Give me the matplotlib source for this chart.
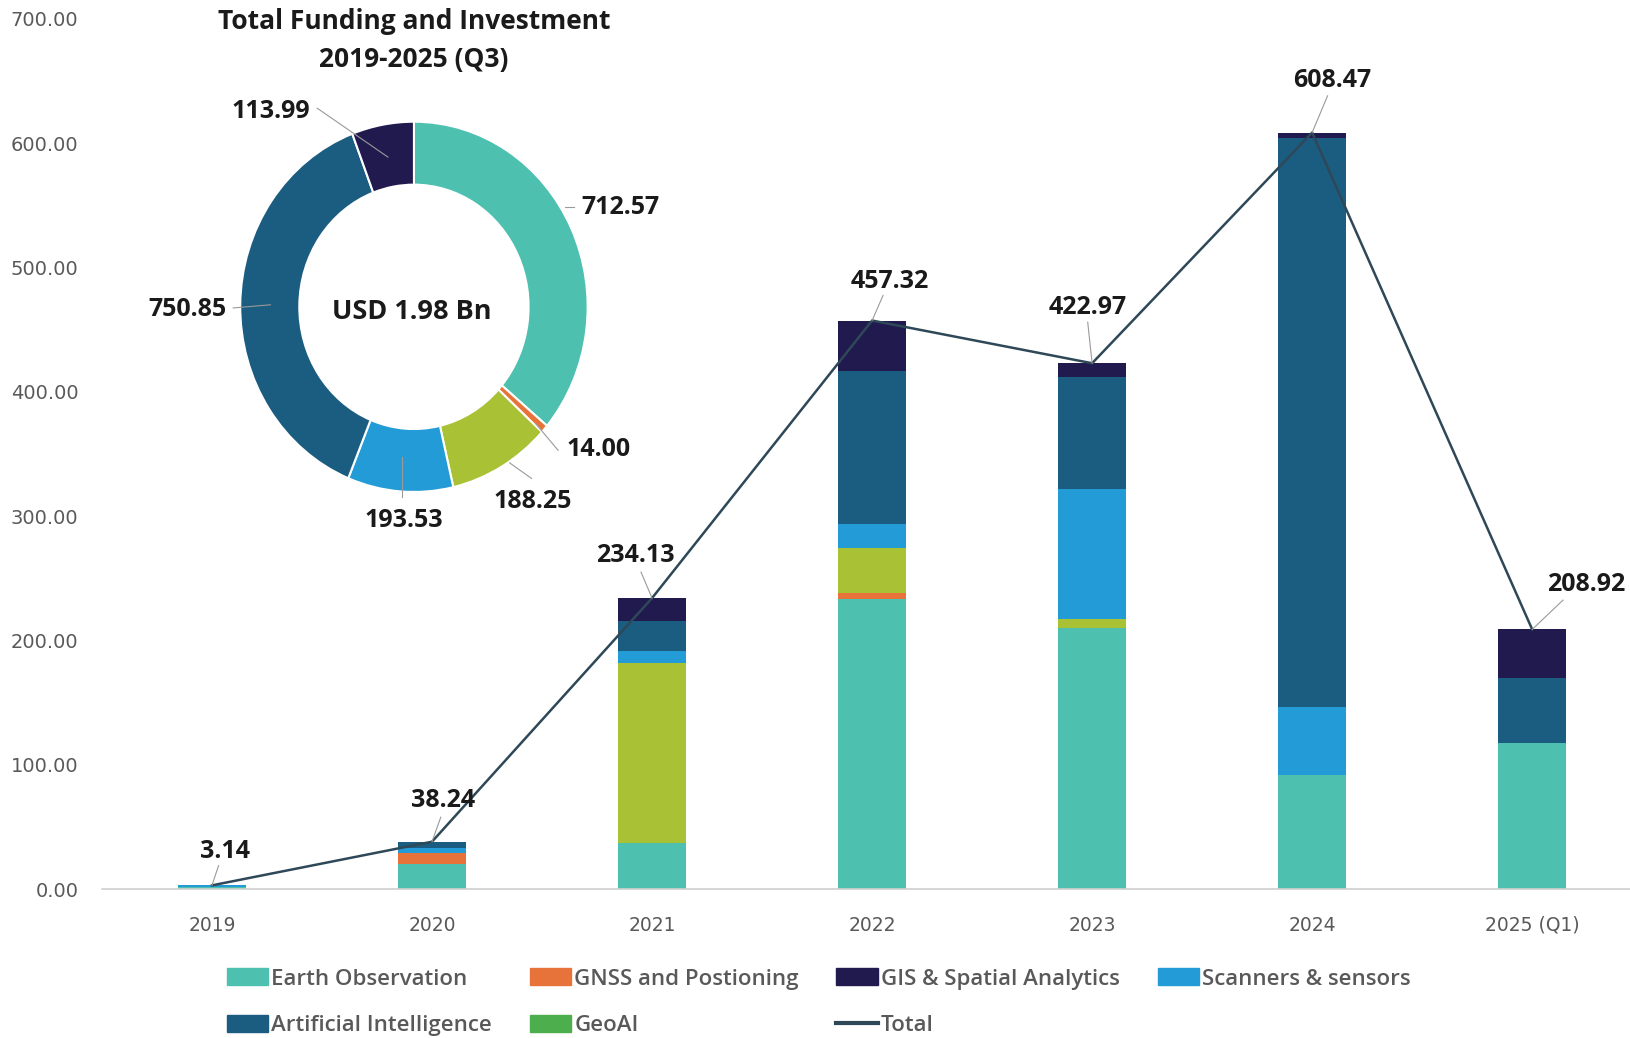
import numpy as np
import matplotlib.pyplot as plt
from matplotlib.patches import Patch
from matplotlib.lines import Line2D

plt.rcParams['font.family'] = ['Open Sans', 'DejaVu Sans']

# funding per segment and year (USD Mn)
years = ["2019", "2020", "2021", "2022", "2023", "2024", "2025 (Q1)"]
earth_obs = [1.64, 20.50, 37.60, 233.30, 210.00, 92.00, 117.53]
gnss = [0.00, 9.00, 0.00, 5.00, 0.00, 0.00, 0.00]
geoai = [0.00, 0.00, 144.60, 36.00, 7.65, 0.00, 0.00]
scanners = [1.50, 4.00, 9.50, 19.20, 104.50, 54.83, 0.00]
ai = [0.00, 4.74, 24.00, 123.00, 90.00, 456.94, 52.17]
gis = [0.00, 0.00, 18.43, 40.82, 10.82, 4.70, 39.22]

names = ["Earth Observation", "GNSS and Postioning", "GeoAI",
         "Scanners & sensors", "Artificial Intelligence", "GIS & Spatial Analytics"]
series = [earth_obs, gnss, geoai, scanners, ai, gis]
colors = ["#4ec0b0", "#e8733a", "#a9c135", "#239bd6", "#1b5d80", "#201a4e"]
geoai_key = "#4cae4c"
line_col = "#2f4858"
grey = "#595959"
dark = "#1a1a1a"

totals = np.round(np.sum(series, axis=0), 2)
seg_totals = np.round(np.sum(series, axis=1), 2)

fig = plt.figure(figsize=(16.31, 10.38), dpi=100)
ax = fig.add_axes([0.0625, 0.14329, 0.9375, 0.83868])

x = np.arange(len(years))
bottom = np.zeros(len(years))
for vals, c in zip(series, colors):
    ax.bar(x, vals, 0.31, bottom=bottom, color=c, linewidth=0, zorder=2)
    bottom += np.array(vals)

ax.plot(x, totals, color=line_col, lw=1.8, zorder=3)

# value labels with leader lines: (text x, text y, line start x, line start y)
lbl_pos = [(0.057, 30.1, 0.03, 19), (1.05, 71.1, 1.04, 58), (1.925, 268.5, 1.95, 255),
           (3.08, 489, 3.05, 477.5), (3.98, 468, 3.98, 456), (5.09, 650.7, 5.07, 638),
           (6.245, 245, 6.14, 232.5)]
for i, (tx, ty, lx, ly) in enumerate(lbl_pos):
    ax.plot([lx, x[i]], [ly, totals[i]], color="#9a9a9a", lw=0.8, zorder=3)
    ax.text(tx, ty, f"{totals[i]:.2f}", ha="center", va="center",
            fontsize=18, fontweight="bold", color=dark, zorder=4)

ax.set_xlim(-0.5, 6.449)
ax.set_ylim(0, 700)
ax.set_yticks(np.arange(0, 701, 100))
ax.set_yticklabels([f"{v:.2f}" for v in np.arange(0, 701, 100)], family="DejaVu Sans")
ax.set_xticks(x)
ax.set_xticklabels(years, family="DejaVu Sans")
ax.tick_params(axis="y", length=0, pad=17, labelsize=14, labelcolor=grey)
ax.tick_params(axis="x", length=0, pad=19, labelsize=13.5, labelcolor=grey)
for s in ["top", "right", "left"]:
    ax.spines[s].set_visible(False)
ax.spines["bottom"].set_color("#d0d0d0")
ax.spines["bottom"].set_linewidth(1.2)

# donut of totals by segment
dax = fig.add_axes([0.2538 - 0.1065, 0.7044 - 0.17835, 0.2130, 0.3567])
dax.pie(seg_totals, colors=colors, startangle=90, counterclock=False, radius=1,
        wedgeprops=dict(width=0.34, edgecolor="white", linewidth=1.5))
dax.set_aspect("auto")
dax.set_xlim(-1, 1)
dax.set_ylim(-1, 1)
dax.axis("off")
dax.text(-0.01, -0.03, "USD 1.98 Bn", ha="center", va="center",
         fontsize=19.5, fontweight="bold", color=dark)

# (text x, text y, line from, line to) in donut coords
don_pos = [(1.19, 0.534, (0.92, 0.54), (0.87, 0.54)),
           (1.06, -0.77, (0.83, -0.775), (0.70, -0.63)),
           (0.683, -1.05, (0.677, -0.927), (0.551, -0.843)),
           (-0.06, -1.152, (-0.066, -1.028), (-0.066, -0.809)),
           (-1.305, -0.017, (-1.04, -0.006), (-0.826, 0.011)),
           (-0.826, 1.056, (-0.557, 1.073), (-0.15, 0.809))]
for v, (tx, ty, p0, p1) in zip(seg_totals, don_pos):
    dax.plot([p0[0], p1[0]], [p0[1], p1[1]], color="#9a9a9a", lw=0.8, clip_on=False)
    dax.text(tx, ty, f"{v:.2f}", ha="center", va="center", fontsize=18,
             fontweight="bold", color=dark, clip_on=False)

fig.text(0.2538, 0.979, "Total Funding and Investment", ha="center", va="center",
         fontsize=19, fontweight="bold", color=dark)
fig.text(0.2538, 0.943, "2019-2025 (Q3)", ha="center", va="center",
         fontsize=19, fontweight="bold", color=dark)

# legend, filled column by column for 4 columns
handles = [Patch(color=colors[0]), Patch(color=colors[4]),
           Patch(color=colors[1]), Patch(color=geoai_key),
           Patch(color=colors[5]), Line2D([], [], color=line_col, lw=3),
           Patch(color=colors[3])]
labels = [names[0], names[4], names[1], "GeoAI", names[5], "Total", names[3]]
fig.legend(handles, labels, ncol=4, loc="upper left", bbox_to_anchor=(0.139, 0.067),
           frameon=False, handlelength=1.85, handleheight=0.8,
           handletextpad=0.15, columnspacing=1.7, labelspacing=1.15,
           borderpad=0, borderaxespad=0, labelcolor=grey,
           prop=dict(family=['Open Sans', 'DejaVu Sans'], weight="semibold", size=16))

fig.savefig("out.png", dpi=100)
